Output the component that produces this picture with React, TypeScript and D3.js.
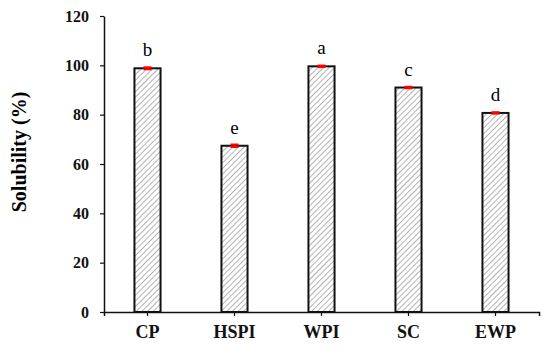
import { useEffect, useRef } from 'react';
import * as d3 from 'd3';

const categories = ['CP', 'HSPI', 'WPI', 'SC', 'EWP'];
const solubility = [98.8, 67.4, 99.6, 91.0, 80.7];
const errors = [0.4, 0.5, 0.3, 0.3, 0.3];
const letters = ['b', 'e', 'a', 'c', 'd'];
const yTicks = [0, 20, 40, 60, 80, 100, 120];

const App = () => {
    const ref = useRef(null);

    useEffect(() => {
        const svg = d3.select(ref.current);
        svg.selectAll('*').remove();

        const width = 550;
        const height = 350;
        const margin = { top: 16, right: 11, bottom: 38, left: 104 };
        const font = '"Liberation Serif", "Times New Roman", serif';

        const x = d3.scaleBand()
            .domain(categories)
            .range([margin.left, width - margin.right]);
        const y = d3.scaleLinear()
            .domain([0, 120])
            .range([height - margin.bottom, margin.top]);

        // hatch pattern
        const defs = svg.append('defs');
        const pat = defs.append('pattern')
            .attr('id', 'hatch')
            .attr('patternUnits', 'userSpaceOnUse')
            .attr('width', 4)
            .attr('height', 4)
            .attr('patternTransform', 'rotate(45)');
        pat.append('rect').attr('width', 4).attr('height', 4).attr('fill', 'white');
        pat.append('line')
            .attr('x1', 0).attr('y1', 0).attr('x2', 0).attr('y2', 4)
            .attr('stroke', '#8a8a8a')
            .attr('stroke-width', 1.3);

        const barW = x.bandwidth() * 0.3;

        svg.append('g')
            .selectAll('rect')
            .data(categories)
            .join('rect')
            .attr('x', d => x(d) + (x.bandwidth() - barW) / 2)
            .attr('y', (d, i) => y(solubility[i]))
            .attr('width', barW)
            .attr('height', (d, i) => y(0) - y(solubility[i]))
            .attr('fill', 'url(#hatch)')
            .attr('stroke', '#111')
            .attr('stroke-width', 2);

        // error bars
        const eb = svg.append('g').attr('stroke', '#ff0000').attr('stroke-width', 2);
        categories.forEach((c, i) => {
            const cx = x(c) + x.bandwidth() / 2;
            eb.append('line')
                .attr('x1', cx).attr('x2', cx)
                .attr('y1', y(solubility[i] - errors[i])).attr('y2', y(solubility[i] + errors[i]));
            eb.append('line')
                .attr('x1', cx - 4).attr('x2', cx + 4)
                .attr('y1', y(solubility[i] + errors[i])).attr('y2', y(solubility[i] + errors[i]));
            eb.append('line')
                .attr('x1', cx - 4).attr('x2', cx + 4)
                .attr('y1', y(solubility[i] - errors[i])).attr('y2', y(solubility[i] - errors[i]));
        });

        // significance letters
        svg.append('g')
            .selectAll('text')
            .data(categories)
            .join('text')
            .attr('x', d => x(d) + x.bandwidth() / 2)
            .attr('y', (d, i) => y(solubility[i]) - 12)
            .attr('text-anchor', 'middle')
            .style('font-family', font)
            .style('font-size', '19px')
            .text((d, i) => letters[i]);

        // y axis
        const yAxis = svg.append('g')
            .attr('transform', `translate(${margin.left},0)`)
            .call(d3.axisLeft(y).tickValues(yTicks).tickSize(4).tickPadding(11).tickSizeOuter(0));
        yAxis.select('.domain').attr('stroke', '#111').attr('stroke-width', 1.5);
        yAxis.selectAll('.tick line').attr('stroke', '#111').attr('stroke-width', 1.2);
        yAxis.selectAll('text')
            .style('font-family', font)
            .style('font-size', '16px')
            .style('font-weight', 'bold')
            .attr('fill', '#111');

        // x axis
        const xAxis = svg.append('g')
            .attr('transform', `translate(0,${y(0)})`)
            .call(d3.axisBottom(x).tickSize(4).tickPadding(9).tickSizeOuter(4));
        xAxis.select('.domain').attr('stroke', '#111').attr('stroke-width', 1.5);
        xAxis.selectAll('.tick line').attr('stroke', '#111').attr('stroke-width', 1.2);
        xAxis.selectAll('text')
            .style('font-family', font)
            .style('font-size', '18px')
            .style('font-weight', 'bold')
            .attr('fill', '#111');

        // y title
        svg.append('text')
            .attr('transform', 'translate(26,152) rotate(-90)')
            .attr('text-anchor', 'middle')
            .style('font-family', font)
            .style('font-size', '20px')
            .style('font-weight', 'bold')
            .text('Solubility (%)');
    }, []);

    return (
        <svg ref={ref} width={550} height={350} style={{ position: 'absolute', left: 0, top: 0 }} />
    );
};

export default App;
